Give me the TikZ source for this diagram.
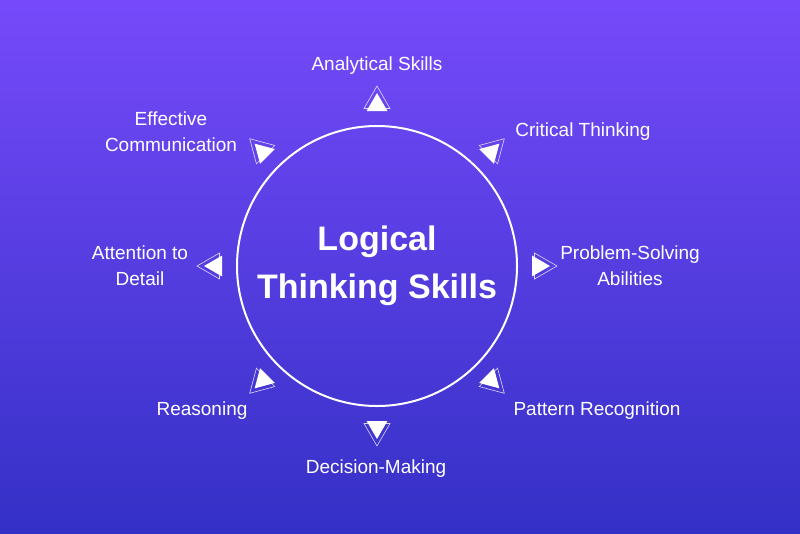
\documentclass[tikz,border=0pt]{standalone}
\usepackage{fontspec}
\setmainfont{Liberation Sans}
\definecolor{bgtop}{RGB}{118,74,250}
\definecolor{bgbot}{RGB}{52,48,198}
\begin{document}
\begin{tikzpicture}[x=1pt,y=-1pt,
  lbl/.style={text=white,font=\fontsize{19}{26}\selectfont,align=center,inner sep=0pt},
  ttl/.style={text=white,font=\bfseries\fontsize{34}{48}\selectfont,align=center,inner sep=0pt}]
\shade[top color=bgtop,bottom color=bgbot] (0,0) rectangle (800,533);
\useasboundingbox (0,0) rectangle (800,533);
\node[circle, draw=white, line width=2pt, minimum size=280pt, inner sep=0pt] (c) at (377,266) {};
\node[ttl] (t) at (377,266) {Logical\\Thinking Skills};
\foreach \a in {0,45,...,315}{
  \begin{scope}[shift={(c.center)}, rotate=\a]
    \draw[white, line width=0.6pt, opacity=0.8] (180,0) -- (157.5,13) -- (157.5,-13) -- cycle;
    \fill[white] (173,0) -- (155,10.4) -- (155,-10.4) -- cycle;
  \end{scope}}
\node[lbl] (l1) at (377,66) {Analytical Skills};
\node[lbl] (l2) at (583,132) {Critical Thinking};
\node[lbl] (l3) at (630,266) {Problem-Solving\\Abilities};
\node[lbl] (l4) at (597,411) {Pattern Recognition};
\node[lbl] (l5) at (376,469) {Decision-Making};
\node[lbl] (l6) at (202,411) {Reasoning};
\node[lbl] (l7) at (140,266) {Attention to\\Detail};
\node[lbl] (l8) at (171,132) {Effective\\Communication};
\end{tikzpicture}
\end{document}
